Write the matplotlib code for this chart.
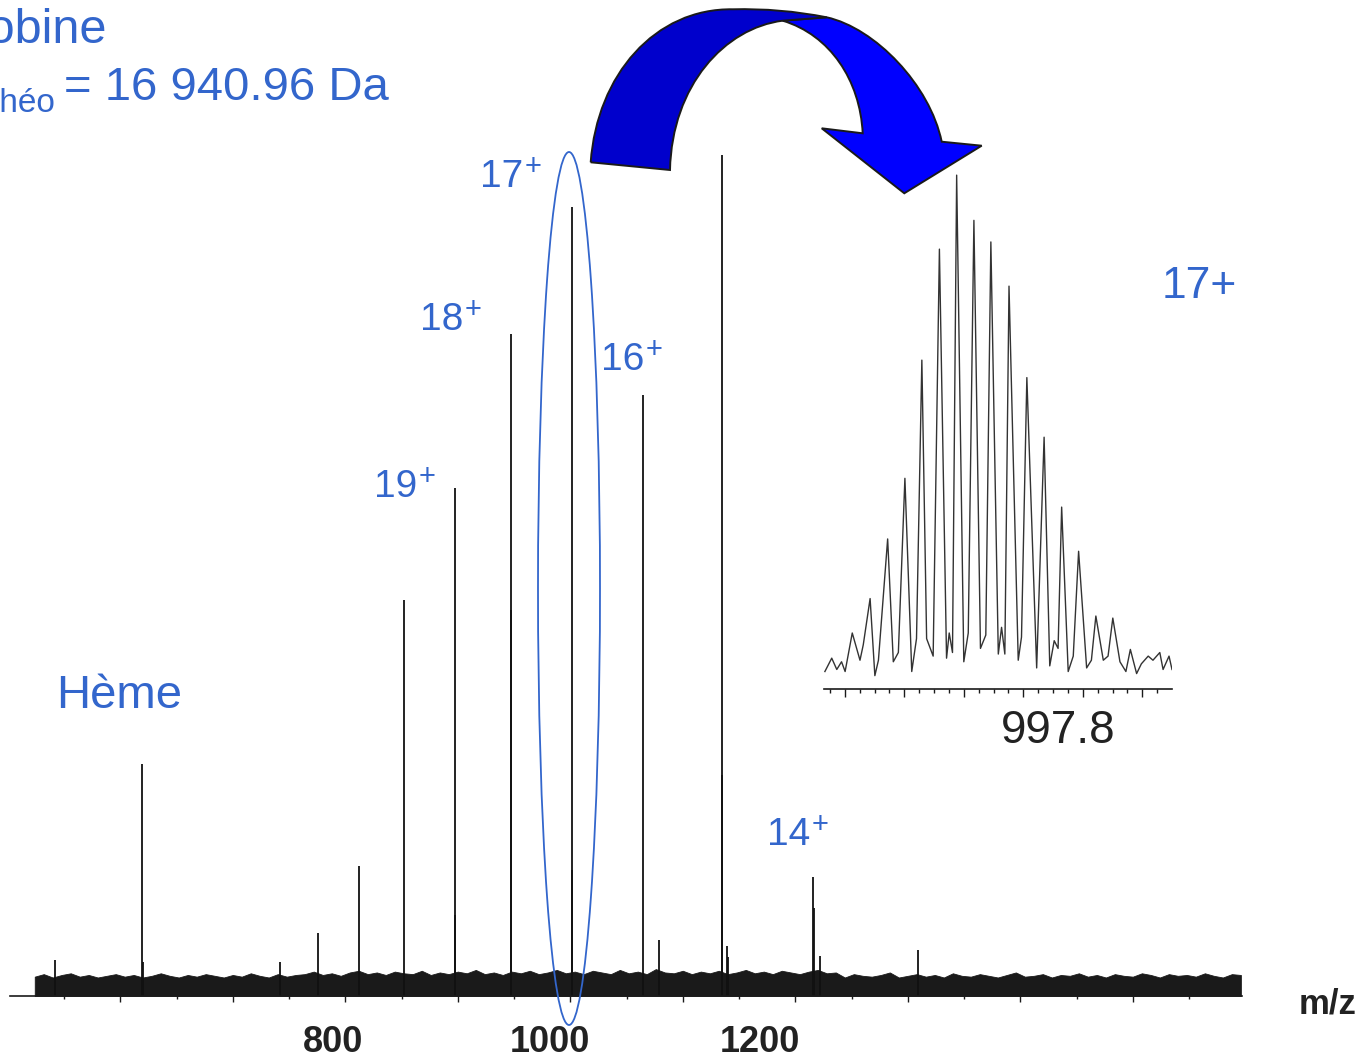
import matplotlib
matplotlib.use("Agg")
import matplotlib.pyplot as plt
import numpy as np
from matplotlib.patches import Ellipse, PathPatch
from matplotlib.path import Path

W, H = 1371, 1060
BLUE = "#3366cc"
INK = "#1a1a1a"

# ESI spectrum of myoglobin, intensity in % of the base peak (15+)
peak_mz = [541.8, 619.1, 619.9, 741.8, 775.6, 812.0, 852.0, 897.3, 897.8,
           947.1, 947.6, 1001.3, 1001.8, 1064.4, 1078.7, 1134.7, 1135.2,
           1139.0, 1140.3, 1215.6, 1216.8, 1221.8, 1308.9]
peak_int = [4.3, 27.6, 4.0, 4.0, 7.5, 15.5, 47.1, 60.4, 9.6,
            78.7, 45.9, 93.8, 15.0, 71.5, 6.7, 100.0, 26.3,
            6.0, 4.6, 14.1, 10.5, 4.8, 5.5]

# chemical noise floor, one value every 8 m/z from 524 to 1596
noise_mz = np.arange(524, 1597, 8)
noise_top = [
    2.3, 2.6, 2.2, 2.5, 2.7, 2.3, 2.5, 2.2, 2.4, 2.6, 2.3, 2.5, 2.2, 2.4, 2.7,
    2.4, 2.2, 2.5, 2.3, 2.6, 2.4, 2.2, 2.5, 2.3, 2.7, 2.4, 2.2, 2.6, 2.3, 2.5,
    2.6, 2.9, 2.5, 2.7, 2.4, 2.8, 3.0, 2.6, 2.8, 2.5, 2.9, 2.7, 2.6, 3.0, 2.5,
    2.8, 2.6, 2.9, 2.7, 3.1, 2.6, 2.8, 2.5, 2.9, 2.7, 3.0, 2.6, 2.8, 3.1, 2.7,
    2.9, 2.6, 3.0, 2.8, 2.6, 3.1, 2.7, 2.9, 2.6, 3.2, 2.8, 2.7, 3.0, 2.6, 2.9,
    2.7, 3.0, 2.6, 2.8, 3.1, 2.7, 2.9, 2.6, 3.0, 2.8, 2.6, 2.9, 3.1, 2.7, 2.8,
    2.2, 2.6, 2.4, 2.3, 2.5, 2.8, 2.2, 2.4, 2.6, 2.3, 2.5, 2.2, 2.7, 2.4, 2.3,
    2.6, 2.4, 2.2, 2.5, 2.8, 2.3, 2.4, 2.6, 2.2, 2.5, 2.4, 2.7, 2.3, 2.5, 2.2,
    2.6, 2.4, 2.3, 2.7, 2.5, 2.2, 2.6, 2.4, 2.5, 2.3, 2.7, 2.4, 2.2, 2.6, 2.5,
]

# zoom on the 17+ isotopic cluster
iso_mz = [996.933, 996.956, 996.973, 996.989, 997.001, 997.025, 997.051, 997.062,
          997.085, 997.101, 997.113, 997.144, 997.163, 997.180, 997.202, 997.225,
          997.241, 997.259, 997.275, 997.297, 997.318, 997.342, 997.351, 997.362,
          997.376, 997.400, 997.415, 997.434, 997.456, 997.474, 997.491, 997.516,
          997.527, 997.538, 997.552, 997.583, 997.594, 997.612, 997.645, 997.670,
          997.689, 997.704, 997.717, 997.729, 997.751, 997.768, 997.786, 997.813,
          997.829, 997.844, 997.869, 997.885, 997.901, 997.925, 997.945, 997.960,
          997.981, 997.997, 998.020, 998.036, 998.059, 998.070, 998.090, 998.100]
iso_int = [3.4, 6.0, 3.8, 5.3, 3.4, 10.9, 5.6, 8.6,
           17.6, 2.6, 5.6, 29.2, 5.3, 7.1, 41.0, 3.4,
           9.8, 64.0, 9.8, 6.4, 85.6, 6.0, 10.9, 7.1,
           100.0, 5.3, 10.9, 91.2, 7.9, 10.5, 87.0, 6.8,
           12.0, 6.8, 78.4, 5.6, 10.1, 60.6, 4.1, 49.0,
           4.5, 9.4, 7.9, 35.4, 3.4, 6.4, 26.8, 4.1,
           5.6, 14.2, 5.6, 6.4, 13.8, 5.3, 3.4, 7.7,
           3.0, 4.9, 6.4, 5.6, 7.1, 3.8, 6.4, 3.8]

# charge state labels: text, pixel position (left, baseline)
charge_text = ["19", "18", "17", "16", "14"]
charge_pos = [(374, 497), (420, 330), (480, 187), (601, 370), (767, 845)]

plt.rcParams["font.family"] = ["Liberation Sans", "DejaVu Sans"]


def fxy(x, y):
    return x / W, 1 - y / H


fig = plt.figure(figsize=(W / 100, H / 100), dpi=100)


def put(x, y, s, **kw):
    fig.text(*fxy(x, y), s, va="baseline", **kw)


# main spectrum
ax = fig.add_axes([10 / W, 64 / H, 1232 / W, 900 / H])
ax.set_xlim(502, 1597)
ax.set_ylim(0, 107)
ax.fill_between(noise_mz, 0, noise_top, color=INK, lw=0.6)
ax.vlines(peak_mz, 0, peak_int, color="#111111", lw=1.3)
for side in ("top", "left", "right"):
    ax.spines[side].set_visible(False)
ax.spines["bottom"].set_color(INK)
ax.spines["bottom"].set_linewidth(1.2)
ax.set_yticks([])
ax.set_xticks(np.arange(600, 1501, 100))
ax.set_xticks(np.arange(550, 1551, 100), minor=True)
ax.tick_params(axis="x", which="major", length=4.5, width=1.0, color=INK, labelbottom=False)
ax.tick_params(axis="x", which="minor", length=2.5, width=1.0, color=INK)
ax.patch.set_visible(False)

for s, xc in zip(["800", "1000", "1200"], [333, 550, 760]):
    put(xc, 1052, s, ha="center", fontsize=26, fontweight="bold", color="#222222")
put(1299, 1013, "m/z", fontsize=25, fontweight="bold", color="#222222")

# inset: isotopic pattern of the 17+ ion
ins = fig.add_axes([824 / W, (H - 689) / H, 348 / W, 519 / H])
ins.plot(iso_mz, iso_int, color="#333333", lw=1.0)
ins.set_xlim(996.93, 998.10)
ins.set_ylim(0, 101)
for side in ("top", "left", "right"):
    ins.spines[side].set_visible(False)
ins.spines["bottom"].set_color(INK)
ins.spines["bottom"].set_linewidth(1.2)
ins.set_yticks([])
ins.set_xticks([997.0, 997.2, 997.4, 997.6, 997.8, 998.0])
ins.set_xticks(np.arange(996.95, 998.1, 0.05), minor=True)
ins.tick_params(axis="x", which="major", length=5.5, width=1.0, color=INK, labelbottom=False)
ins.tick_params(axis="x", which="minor", length=3, width=1.0, color=INK)
ins.patch.set_visible(False)
put(1001, 743, "997.8", fontsize=33, color="#222222")

# annotations
put(106, 43, "Myoglobine", ha="right", fontsize=35, color=BLUE)
put(-9, 100, "M", ha="right", fontsize=34, color=BLUE)
put(55, 112, "théo", ha="right", fontsize=24, color=BLUE)
put(64, 100, "= 16 940.96 Da", fontsize=34, color=BLUE)
put(56, 708, "Hème", fontsize=34, color=BLUE)
put(1162, 298, "17+", fontsize=32, color=BLUE)
for s, (x, y) in zip(charge_text, charge_pos):
    put(x, y, s, fontsize=28, color=BLUE)
    put(x + 45, y - 12, "+", fontsize=21, color=BLUE)

# ellipse around the 17+ peak
fig.add_artist(Ellipse(fxy(569, 588.5), 62 / W, 873 / H, transform=fig.transFigure,
                       fill=False, ec=BLUE, lw=1.3, zorder=10))

# curved arrow pointing to the zoom
M, L, C3, C4 = Path.MOVETO, Path.LINETO, Path.CURVE3, Path.CURVE4
light = [((782.7, 20.7), M), ((826.7, 17.3), L),
         ((875, 28), C4), ((930, 85), C4), ((941.7, 141.7), C4),
         ((981.7, 145.7), L), ((904.3, 193.3), L), ((821.7, 128.3), L),
         ((862.7, 133.3), L),
         ((860, 80), C4), ((830, 35), C4), ((782.7, 20.7), C4)]
dark = [((590.7, 162.3), M),
        ((597, 75), C4), ((655, 8), C4), ((733, 9.3), C4),
        ((780, 8), C3), ((826.7, 17.3), C3),
        ((782.7, 20.7), L),
        ((725, 28), C4), ((672, 85), C4), ((670, 170), C4),
        ((590.7, 162.3), L)]
for parts, col in ((light, "#0000ff"), (dark, "#0000cc")):
    verts = [fxy(*p) for p, _ in parts]
    codes = [c for _, c in parts]
    fig.add_artist(PathPatch(Path(verts, codes), transform=fig.transFigure,
                             fc=col, ec=INK, lw=1.4, zorder=11))

fig.savefig("out.png", dpi=100)
